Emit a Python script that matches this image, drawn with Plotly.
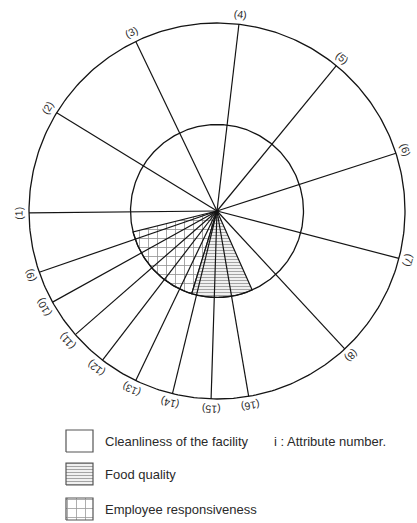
import numpy as np
import plotly.graph_objects as go

# Attribute spokes: label and direction (degrees, counter-clockwise from east)
attribute_labels = [f"({i})" for i in range(1, 17)]
spoke_angles = [180.6, 148.5, 115.6, 83.3, 50.6, 17.9, -14.6, -47.2,
                -161.0, -151.0, -138.9, -127.5, -115.6, -103.7, -91.8, -80.3]

# Hatched sectors (start angle, end angle), filled out to the inner ring
food_quality_sector = [-107.0, -66.0]
employee_sector = [-166.0, -107.0]

# Ring radii (outer ring = 1)
outer_ring = 1.0
inner_ring = 0.46

legend_names = ["Cleanliness of the facility", "Food quality", "Employee responsiveness"]
legend_note = "i : Attribute number."

# ---- layout geometry (pixel-like units, y up) ----
W, H = 417, 523
CX, CY = 217.0, 312.0
SCALE = 188.0
LABEL_R = 1.055
LINE = "#141414"

def to_xy(r, deg):
    t = np.deg2rad(deg)
    return CX + SCALE * r * np.cos(t), CY + SCALE * r * np.sin(t)

def sector_poly(a0, a1, r):
    angs = np.linspace(a0, a1, 60)
    xs, ys = to_xy(r, angs)
    return [CX, *xs, CX], [CY, *ys, CY]

fig = go.Figure()

# hatched sectors
for (a0, a1), shape, size, sol, col in [
    (employee_sector, "+", 9, 0.17, "#222222"),
    (food_quality_sector, "-", 3, 0.45, "#4a4a4a"),
]:
    xs, ys = sector_poly(a0, a1, inner_ring)
    fig.add_trace(go.Scatter(
        x=xs, y=ys, mode="lines", fill="toself",
        line=dict(color=LINE, width=1.2),
        fillcolor="white",
        fillpattern=dict(shape=shape, size=size, solidity=sol,
                         fgcolor=col, bgcolor="white"),
        hoverinfo="skip", showlegend=False))

# rings
ring_angles = np.linspace(0, 360, 361)
for r in (outer_ring, inner_ring):
    xs, ys = to_xy(r, ring_angles)
    fig.add_trace(go.Scatter(x=xs, y=ys, mode="lines",
                             line=dict(color=LINE, width=1.3),
                             hoverinfo="skip", showlegend=False))

# spokes
sx, sy = [], []
for a in spoke_angles:
    x1, y1 = to_xy(outer_ring, a)
    sx += [CX, x1, None]
    sy += [CY, y1, None]
fig.add_trace(go.Scatter(x=sx, y=sy, mode="lines",
                         line=dict(color=LINE, width=1.2),
                         hoverinfo="skip", showlegend=False))

# attribute labels, top of text facing outward
annotations = []
for lab, a in zip(attribute_labels, spoke_angles):
    x, y = to_xy(LABEL_R, a)
    rot = (90 - a + 180) % 360 - 180
    annotations.append(dict(x=x, y=y, xref="x", yref="y", text=lab,
                            showarrow=False, textangle=rot,
                            font=dict(family="Liberation Sans", size=10.5, color="#2a2a2a")))

# legend swatches
box_x0, box_x1 = 66, 93
rows_y = [82, 49, 14]
styles = [None, ("-", 3, 0.45, "#4a4a4a"), ("+", 9, 0.17, "#333")]
for name, yc, st in zip(legend_names, rows_y, styles):
    bx = [box_x0, box_x1, box_x1, box_x0, box_x0]
    by = [yc - 11, yc - 11, yc + 11, yc + 11, yc - 11]
    kw = {}
    if st:
        kw["fillpattern"] = dict(shape=st[0], size=st[1], solidity=st[2],
                                 fgcolor=st[3], bgcolor="white")
    fig.add_trace(go.Scatter(x=bx, y=by, mode="lines", fill="toself",
                             fillcolor="white", line=dict(color="#555", width=1.2),
                             hoverinfo="skip", showlegend=False, **kw))
    annotations.append(dict(x=103, y=yc, xref="x", yref="y", text=name,
                            showarrow=False, xanchor="left",
                            font=dict(family="Liberation Sans", size=13, color="#2a2a2a")))
annotations.append(dict(x=272, y=rows_y[0], xref="x", yref="y", text=legend_note,
                        showarrow=False, xanchor="left",
                        font=dict(family="Liberation Sans", size=13, color="#2a2a2a")))

fig.update_layout(
    width=W, height=H,
    margin=dict(l=0, r=0, t=0, b=0),
    paper_bgcolor="white", plot_bgcolor="white",
    xaxis=dict(range=[0, W], visible=False, fixedrange=True),
    yaxis=dict(range=[0, H], visible=False, fixedrange=True),
    annotations=annotations,
)

fig.write_html("out.html")
